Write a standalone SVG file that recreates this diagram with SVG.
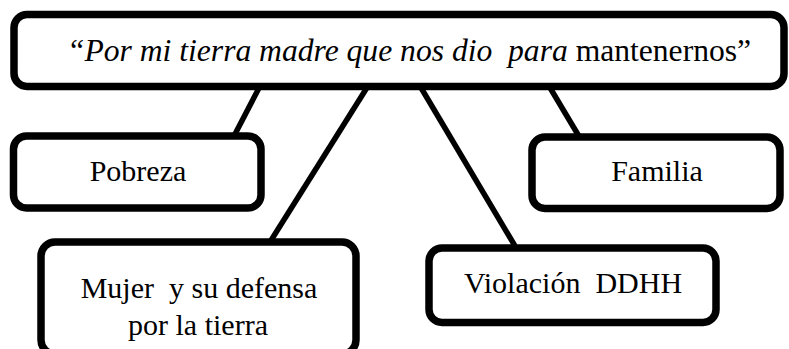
<svg xmlns="http://www.w3.org/2000/svg" width="789" height="349" viewBox="0 0 789 349">
<style>
.box{fill:#fff;stroke:#000;stroke-width:7.5}
.t{font-family:'Liberation Serif','Times New Roman',serif;font-size:30px;fill:#000;text-anchor:middle;white-space:pre}
.big{font-size:31.6px}
.c{stroke:#000;stroke-width:5.5;fill:none}
</style>
<rect width="789" height="349" fill="#fff"/>
<g id="connectors">
<line class="c" x1="260" y1="86" x2="233" y2="138"/>
<line class="c" x1="368" y1="86" x2="270" y2="242"/>
<line class="c" x1="420" y1="86" x2="515" y2="246"/>
<line class="c" x1="549" y1="86" x2="580" y2="138"/>
</g>
<g id="top">
<rect class="box" x="14" y="14.5" width="770" height="72" rx="13"/>
<text class="t big" x="409" y="61"><tspan font-style="italic">“Por mi tierra madre que nos dio  para</tspan> mantenernos”</text>
</g>
<g id="pobreza">
<rect class="box" x="13.5" y="136" width="247.5" height="72" rx="13"/>
<text class="t" x="138" y="181">Pobreza</text>
</g>
<g id="familia">
<rect class="box" x="532" y="137" width="248" height="71.5" rx="13"/>
<text class="t" x="657" y="181">Familia</text>
</g>
<g id="mujer">
<rect class="box" x="41" y="242" width="315" height="112" rx="14"/>
<text class="t" x="199" y="298">Mujer  y su defensa</text>
<text class="t" x="198" y="335">por la tierra</text>
</g>
<g id="violacion">
<rect class="box" x="429" y="248" width="287" height="74.5" rx="13"/>
<text class="t" x="573" y="293">Violación  DDHH</text>
</g>
</svg>
